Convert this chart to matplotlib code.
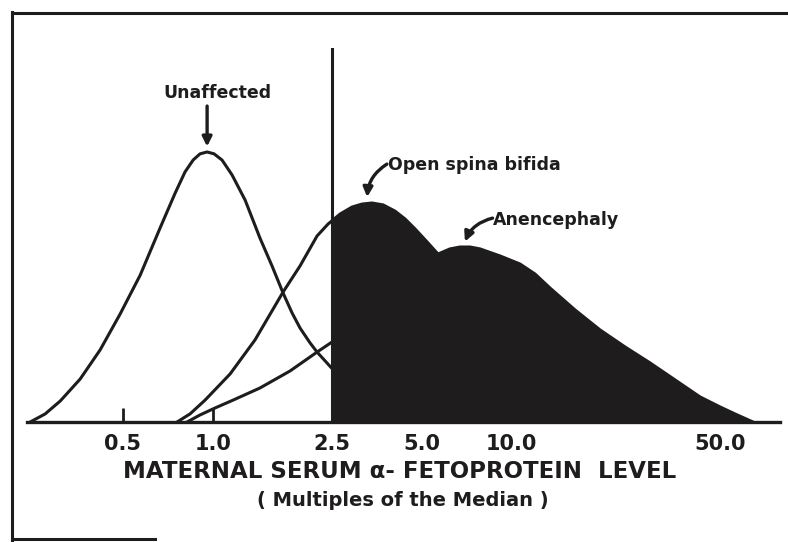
import numpy as np
import matplotlib.pyplot as plt
from matplotlib.patches import Rectangle
from matplotlib.lines import Line2D
from matplotlib.ticker import NullLocator

# x = maternal serum AFP in multiples of the median, y = relative frequency
# (unaffected peak = 1.0)
unaffected_mom = [0.245, 0.275, 0.309, 0.360, 0.420, 0.490, 0.572, 0.667, 0.749, 0.808,
                  0.860, 0.907, 0.958, 1.011, 1.075, 1.161, 1.284, 1.440, 1.580, 1.720,
                  1.844, 1.961, 2.118, 2.236, 2.5, 3.11, 4.24, 5.34]
unaffected_freq = [0.0, 0.030, 0.078, 0.159, 0.267, 0.400, 0.544, 0.719, 0.848, 0.926,
                   0.970, 0.993, 1.0, 0.993, 0.970, 0.915, 0.822, 0.681, 0.578, 0.478,
                   0.404, 0.348, 0.293, 0.259, 0.200, 0.089, 0.022, 0.0]

spina_bifida_mom = [0.760, 0.840, 0.943, 1.144, 1.386, 1.720, 1.961, 2.236, 2.433, 2.670,
                    2.928, 3.162, 3.415, 3.719, 4.077, 4.405, 4.758, 5.219, 5.680, 6.730,
                    7.852, 9.158, 11.10, 13.47, 16.33, 19.80, 29.10]
spina_bifida_freq = [0.0, 0.030, 0.081, 0.178, 0.304, 0.481, 0.578, 0.689, 0.733, 0.770,
                     0.796, 0.807, 0.811, 0.804, 0.781, 0.752, 0.715, 0.667, 0.622, 0.515,
                     0.422, 0.311, 0.200, 0.119, 0.063, 0.030, 0.0]

anencephaly_mom = [0.821, 0.907, 1.019, 1.170, 1.440, 1.816, 2.236, 2.883, 3.634, 4.58,
                   5.680, 6.231, 6.730, 7.271, 7.852, 9.158, 10.69, 12.00, 13.47, 16.33,
                   19.80, 24.01, 29.10, 35.29, 42.79, 49.90, 56.01, 64.37]
anencephaly_freq = [0.0, 0.026, 0.052, 0.081, 0.126, 0.189, 0.259, 0.341, 0.433, 0.533,
                    0.622, 0.641, 0.648, 0.648, 0.641, 0.615, 0.585, 0.548, 0.496, 0.415,
                    0.341, 0.278, 0.219, 0.156, 0.093, 0.056, 0.030, 0.0]

cutoff = 2.5
tick_vals = [0.5, 1.0, 2.5, 5.0, 10.0, 50.0]
tick_labels = ['0.5', '1.0', '2.5', '5.0', '10.0', '50.0']

ink = '#1e1c1d'
plt.rcParams['font.family'] = 'DejaVu Sans'

fig = plt.figure(figsize=(7.88, 5.42), dpi=100)
ax = fig.add_axes([27/788, 120/542, 753/788, 374/542])
ax.set_xscale('log')
ax.set_xlim(0.239, 79.3)
ax.set_ylim(0, 1.385)

# shaded area = screen positives above the cutoff
for mom, freq in [(spina_bifida_mom, spina_bifida_freq), (anencephaly_mom, anencephaly_freq)]:
    poly = ax.fill_between(mom, freq, 0, color=ink, lw=0, zorder=3)
    poly.set_clip_path(Rectangle((cutoff, 0), 1000, 5, transform=ax.transData))

for mom, freq in [(unaffected_mom, unaffected_freq), (spina_bifida_mom, spina_bifida_freq),
                  (anencephaly_mom, anencephaly_freq)]:
    ax.plot(mom, freq, color=ink, lw=2.2, solid_joinstyle='round', zorder=2)
ax.axvline(cutoff, color=ink, lw=2.2, zorder=4)

for s in ['top', 'left', 'right']:
    ax.spines[s].set_visible(False)
ax.spines['bottom'].set_linewidth(2.4)
ax.spines['bottom'].set_color(ink)
ax.set_yticks([])
ax.set_xticks(tick_vals, tick_labels)
ax.xaxis.set_minor_locator(NullLocator())
ax.tick_params(axis='x', direction='in', length=10, width=2, color=ink, pad=9,
               labelsize=15, labelcolor=ink)
for t in ax.get_xticklabels():
    t.set_fontweight('bold')

fig.text(400/788, 1 - 472/542, 'MATERNAL SERUM \u03b1- FETOPROTEIN  LEVEL', ha='center', va='center',
         fontsize=16.5, fontweight='bold', color=ink)
fig.text(403/788, 1 - 500/542, '( Multiples of the Median )', ha='center', va='center',
         fontsize=14, fontweight='bold', color=ink)

# labels and arrows
arrow = dict(arrowstyle='-|>', color=ink, lw=2.4, mutation_scale=14, shrinkA=0, shrinkB=0)
ax.text(1.034, 1.219, 'Unaffected', ha='center', va='center', fontsize=12.5, fontweight='bold', color=ink)
ax.annotate('', xy=(0.958, 1.02), xytext=(0.958, 1.17), arrowprops=arrow)

ax.text(3.85, 0.952, 'Open spina bifida', ha='left', va='center', fontsize=12.5, fontweight='bold', color=ink)
ax.annotate('', xy=(3.29, 0.833), xytext=(3.83, 0.955),
            arrowprops=dict(arrow, connectionstyle='arc3,rad=0.25'))

ax.text(8.7, 0.748, 'Anencephaly', ha='left', va='center', fontsize=12.5, fontweight='bold', color=ink)
ax.annotate('', xy=(6.99, 0.668), xytext=(8.65, 0.755),
            arrowprops=dict(arrow, connectionstyle='arc3,rad=0.25'))

# border of the scanned page
fig.add_artist(Line2D([13/788, 1], [1 - 13/542, 1 - 13/542], color=ink, lw=2.2, transform=fig.transFigure))
fig.add_artist(Line2D([12/788, 12/788], [1 - 12/542, 1 - 540/542], color=ink, lw=2.2, transform=fig.transFigure))
fig.add_artist(Line2D([12/788, 155/788], [1 - 539/542, 1 - 539/542], color=ink, lw=2.2, transform=fig.transFigure))

fig.savefig('out.png', dpi=100)
